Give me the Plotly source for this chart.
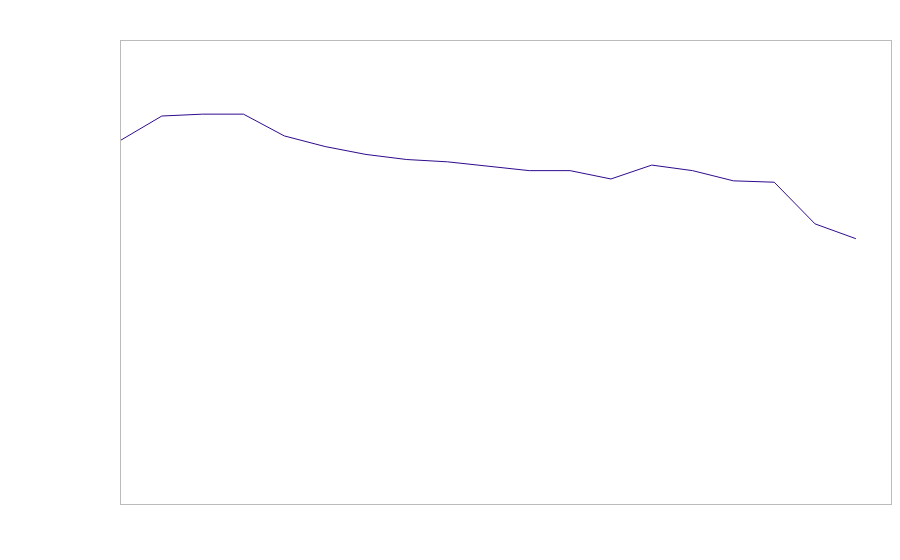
import plotly.graph_objects as go

x_index = list(range(19))
values = [78.6, 83.8, 84.2, 84.2, 79.5, 77.2, 75.5, 74.4, 73.9, 73.0, 72.0, 72.0,
          70.2, 73.2, 72.0, 69.8, 69.5, 60.5, 57.3]

fig = go.Figure()
fig.add_trace(go.Scatter(x=x_index, y=values, mode="lines",
                         line=dict(color="#2f0a8c", width=1), hoverinfo="skip",
                         showlegend=False))

axis_style = dict(showgrid=False, zeroline=False, showticklabels=False, ticks="",
                  showline=True, mirror=True, linecolor="#bbbbbb", linewidth=1)
fig.update_xaxes(range=[0, 18.86], **axis_style)
fig.update_yaxes(range=[0, 100], **axis_style)
fig.update_layout(width=884, height=530, margin=dict(l=113, r=1, t=33, b=34),
                  paper_bgcolor="white", plot_bgcolor="white")
fig.write_html("out.html")
